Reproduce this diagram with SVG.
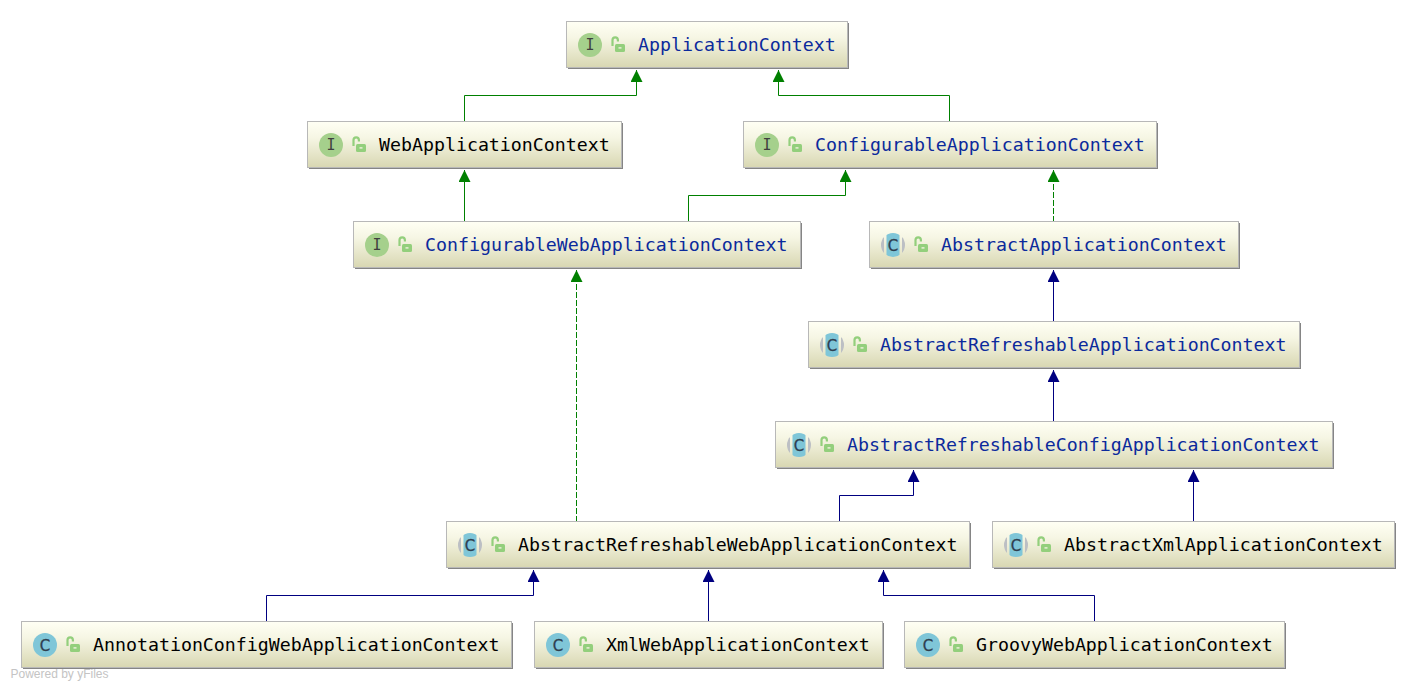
<svg xmlns="http://www.w3.org/2000/svg" width="1416" height="690" viewBox="0 0 1416 690">
<style>
.box{fill:url(#nodeFill);stroke:#b8b8b8;stroke-width:1}
.shadow{fill:#858585}
.name{font-family:"DejaVu Sans Mono",monospace;font-size:18.25px}
.api{fill:#0b2a9c}
.impl{fill:#000}
.glyph{font-family:"DejaVu Sans Mono",monospace;font-size:15px;fill:#3f3f3f;text-anchor:middle}
.cglyph{font-family:"DejaVu Sans",sans-serif;font-size:15px;fill:#2f4050;text-anchor:middle;stroke:#2f4050;stroke-width:0.3}
.g{fill:none;stroke:#008000;stroke-width:1}
.b{fill:none;stroke:#000080;stroke-width:1}
.d{stroke-dasharray:6 2}
.wm{font-family:"Liberation Sans",Arial,sans-serif;font-size:12px;fill:#c4c4c4}
</style>
<defs>
<linearGradient id="nodeFill" x1="0" y1="0" x2="0" y2="1"><stop offset="0" stop-color="#fffff4"/><stop offset="0.35" stop-color="#f6f6e4"/><stop offset="1" stop-color="#d8d7b2"/></linearGradient>
<marker id="ag" markerUnits="userSpaceOnUse" markerWidth="12" markerHeight="12" refX="12" refY="6" orient="auto"><path d="M0,0L12,6L0,12z" fill="#008000"/></marker>
<marker id="ab" markerUnits="userSpaceOnUse" markerWidth="12" markerHeight="12" refX="12" refY="6" orient="auto"><path d="M0,0L12,6L0,12z" fill="#000080"/></marker>
<clipPath id="disc"><circle r="12"/></clipPath>
<g id="lock"><path d="M-5.500,1v-6a2.700,2.700 0 0 1 5.400,0v1.500" fill="none" stroke="#93cf7c" stroke-width="2.200"/><rect x="-3" y="-1" width="10" height="8" rx="1.500" fill="#93cf7c"/><rect x="0.500" y="2.200" width="3" height="1.400" fill="#f0f0dc"/></g>
<circle id="ibg" r="12" fill="#a5d08c"/>
<circle id="cbg" r="12" fill="#7fc6d8"/>
<g id="abg" clip-path="url(#disc)"><rect x="-12" y="-12" width="3" height="24" fill="#bcbfc4"/><rect x="9" y="-12" width="3" height="24" fill="#bcbfc4"/><rect x="-6.500" y="-12" width="13" height="24" fill="#7fc6d8"/></g>
</defs>
<rect width="1416" height="690" fill="#fff"/>
<g id="connectors">
<path class="g" marker-end="url(#ag)" d="M464.500,122V95.500H636.500V70"/>
<path class="g" marker-end="url(#ag)" d="M949.500,122V95.500H778.500V70"/>
<path class="g" marker-end="url(#ag)" d="M464.500,222V170"/>
<path class="g" marker-end="url(#ag)" d="M688.500,222V195.500H845.500V170"/>
<path class="g d" marker-end="url(#ag)" d="M1053.500,222V170"/>
<path class="b" marker-end="url(#ab)" d="M1053.500,322V270"/>
<path class="b" marker-end="url(#ab)" d="M1053.500,422V370"/>
<path class="g d" marker-end="url(#ag)" d="M576.500,522V270"/>
<path class="b" marker-end="url(#ab)" d="M839.500,522V495.500H913.500V470"/>
<path class="b" marker-end="url(#ab)" d="M1193.500,522V470"/>
<path class="b" marker-end="url(#ab)" d="M266.500,622V595.500H533.500V570"/>
<path class="b" marker-end="url(#ab)" d="M708.500,622V570"/>
<path class="b" marker-end="url(#ab)" d="M1094.500,622V595.500H883.500V570"/>
</g>
<g id="n1"><rect class="shadow" x="568" y="23" width="281" height="46"/><rect class="box" x="566.500" y="21.500" width="281" height="46"/><use href="#ibg" x="590" y="45"/><text class="glyph" x="590" y="50">I</text><use href="#lock" x="618" y="45"/><text class="name api" x="638" y="51">ApplicationContext</text></g>
<g id="n2"><rect class="shadow" x="309" y="123" width="314" height="46"/><rect class="box" x="307.500" y="121.500" width="314" height="46"/><use href="#ibg" x="331" y="145"/><text class="glyph" x="331" y="150">I</text><use href="#lock" x="359" y="145"/><text class="name impl" x="379" y="151">WebApplicationContext</text></g>
<g id="n3"><rect class="shadow" x="745" y="123" width="413" height="46"/><rect class="box" x="743.500" y="121.500" width="413" height="46"/><use href="#ibg" x="767" y="145"/><text class="glyph" x="767" y="150">I</text><use href="#lock" x="795" y="145"/><text class="name api" x="815" y="151">ConfigurableApplicationContext</text></g>
<g id="n4"><rect class="shadow" x="355" y="223" width="447" height="46"/><rect class="box" x="353.500" y="221.500" width="447" height="46"/><use href="#ibg" x="377" y="245"/><text class="glyph" x="377" y="250">I</text><use href="#lock" x="405" y="245"/><text class="name api" x="425" y="251">ConfigurableWebApplicationContext</text></g>
<g id="n5"><rect class="shadow" x="871" y="223" width="369" height="46"/><rect class="box" x="869.500" y="221.500" width="369" height="46"/><use href="#abg" x="893" y="245"/><text class="cglyph" x="893" y="250.500">C</text><use href="#lock" x="921" y="245"/><text class="name api" x="941" y="251">AbstractApplicationContext</text></g>
<g id="n6"><rect class="shadow" x="810" y="323" width="491" height="46"/><rect class="box" x="808.500" y="321.500" width="491" height="46"/><use href="#abg" x="832" y="345"/><text class="cglyph" x="832" y="350.500">C</text><use href="#lock" x="860" y="345"/><text class="name api" x="880" y="351">AbstractRefreshableApplicationContext</text></g>
<g id="n7"><rect class="shadow" x="777" y="423" width="557" height="46"/><rect class="box" x="775.500" y="421.500" width="557" height="46"/><use href="#abg" x="799" y="445"/><text class="cglyph" x="799" y="450.500">C</text><use href="#lock" x="827" y="445"/><text class="name api" x="847" y="451">AbstractRefreshableConfigApplicationContext</text></g>
<g id="n8"><rect class="shadow" x="448" y="523" width="523" height="46"/><rect class="box" x="446.500" y="521.500" width="523" height="46"/><use href="#abg" x="470" y="545"/><text class="cglyph" x="470" y="550.500">C</text><use href="#lock" x="498" y="545"/><text class="name impl" x="518" y="551">AbstractRefreshableWebApplicationContext</text></g>
<g id="n9"><rect class="shadow" x="994" y="523" width="402" height="46"/><rect class="box" x="992.500" y="521.500" width="402" height="46"/><use href="#abg" x="1016" y="545"/><text class="cglyph" x="1016" y="550.500">C</text><use href="#lock" x="1044" y="545"/><text class="name impl" x="1064" y="551">AbstractXmlApplicationContext</text></g>
<g id="n10"><rect class="shadow" x="23" y="623" width="490" height="46"/><rect class="box" x="21.500" y="621.500" width="490" height="46"/><use href="#cbg" x="45" y="645"/><text class="cglyph" x="45" y="650.500">C</text><use href="#lock" x="73" y="645"/><text class="name impl" x="93" y="651">AnnotationConfigWebApplicationContext</text></g>
<g id="n11"><rect class="shadow" x="536" y="623" width="348" height="46"/><rect class="box" x="534.500" y="621.500" width="348" height="46"/><use href="#cbg" x="558" y="645"/><text class="cglyph" x="558" y="650.500">C</text><use href="#lock" x="586" y="645"/><text class="name impl" x="606" y="651">XmlWebApplicationContext</text></g>
<g id="n12"><rect class="shadow" x="906" y="623" width="380" height="46"/><rect class="box" x="904.500" y="621.500" width="380" height="46"/><use href="#cbg" x="928" y="645"/><text class="cglyph" x="928" y="650.500">C</text><use href="#lock" x="956" y="645"/><text class="name impl" x="976" y="651">GroovyWebApplicationContext</text></g>
<text class="wm" x="10.500" y="678">Powered by yFiles</text>
</svg>
